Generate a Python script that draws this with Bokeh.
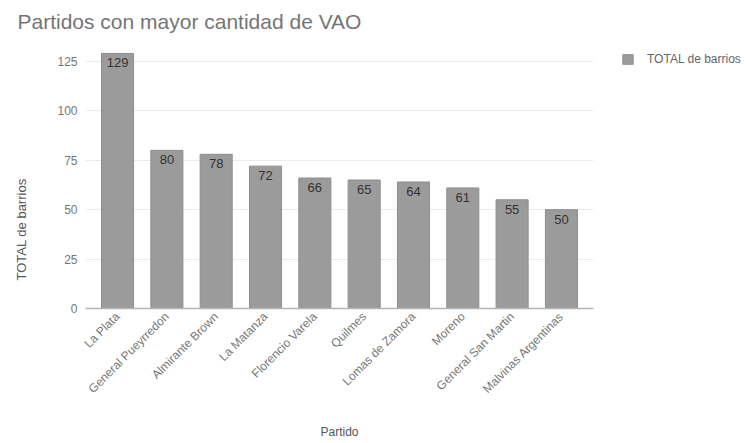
import math
from bokeh.plotting import figure
from bokeh.models import (FactorRange, Range1d, FixedTicker, Legend, LegendItem,
                          ColumnDataSource, Title)
from bokeh.core.properties import value
from bokeh.embed import file_html
from bokeh.resources import INLINE

partidos = ["La Plata", "General Pueyrredon", "Almirante Brown", "La Matanza",
            "Florencio Varela", "Quilmes", "Lomas de Zamora", "Moreno",
            "General San Martin", "Malvinas Argentinas"]
totales = [129, 80, 78, 72, 66, 65, 64, 61, 55, 50]
y_ticks = [0, 25, 50, 75, 100, 125]

FONT = "Liberation Sans"

src = ColumnDataSource(dict(x=partidos, top=totales, lbl=[str(v) for v in totales]))

p = figure(frame_width=508, frame_height=257, output_backend="svg",
           toolbar_location=None, title=None,
           x_range=FactorRange(*partidos, range_padding=0.03),
           y_range=Range1d(0, 130),
           min_border_left=85, min_border_right=154, min_border_top=51,
           min_border_bottom=135)
p.outline_line_color = None
p.background_fill_color = "white"

bars = p.vbar(x="x", top="top", width=0.65, source=src,
              fill_color="#9b9b9b", line_color="#8e8e8e", line_width=1)

p.text(x="x", y="top", text="lbl", source=src, y_offset=5,
       text_align="center", text_baseline="top",
       text_font=value(FONT), text_font_size="13px", text_color="#333333")

# axes
p.xgrid.grid_line_color = None
p.ygrid.grid_line_color = "#ebebeb"
p.ygrid.grid_line_width = 1

p.yaxis.ticker = FixedTicker(ticks=y_ticks)
p.yaxis.axis_line_color = None
p.yaxis.major_tick_line_color = None
p.yaxis.minor_tick_line_color = None
p.yaxis.major_tick_out = 0
p.yaxis.minor_tick_out = 0
p.yaxis.major_label_text_font = FONT
p.yaxis.major_label_text_font_size = "12px"
p.yaxis.major_label_text_color = "#777777"
p.yaxis.major_label_standoff = 8

p.xaxis.axis_line_color = "#b5b5b5"
p.xaxis.axis_line_width = 1.5
p.xaxis.major_tick_line_color = None
p.xaxis.minor_tick_line_color = None
p.xaxis.major_tick_out = 0
p.xaxis.minor_tick_out = 0
p.xaxis.major_label_orientation = math.pi / 4
p.xaxis.major_label_text_font = FONT
p.xaxis.major_label_text_font_size = "12px"
p.xaxis.major_label_text_color = "#777777"
p.xaxis.major_label_standoff = 6
p.xaxis.axis_label = "Partido"
p.xaxis.axis_label_text_font = FONT
p.xaxis.axis_label_text_font_size = "12px"
p.xaxis.axis_label_text_font_style = "normal"
p.xaxis.axis_label_text_color = "#555555"
p.xaxis.axis_label_standoff = 21

# spacer between frame and chart title (white on white)
top_spacer = Title(text=".", text_font_size="2px", text_color="white", standoff=14)
p.add_layout(top_spacer, "above")

# chart title (outer position in the above panel)
main_title = Title(text="Partidos con mayor cantidad de VAO", align="left",
                   offset=-68, vertical_align="top", standoff=0,
                   text_font=FONT, text_font_size="21px", text_font_style="normal",
                   text_color="#757575")
p.add_layout(main_title, "above")

# spacer between y axis and its title (white on white)
left_spacer = Title(text=".", text_font_size="2px", text_color="white", standoff=21)
p.add_layout(left_spacer, "left")

# y axis title
ytitle = Title(text="TOTAL de barrios", align="left", offset=28,
               vertical_align="top", standoff=0,
               text_font=FONT, text_font_size="13px", text_font_style="normal",
               text_color="#555555")
p.add_layout(ytitle, "left")

legend = Legend(items=[LegendItem(label="TOTAL de barrios", renderers=[bars])],
                location=(28, 242), orientation="vertical",
                glyph_width=13, glyph_height=12, label_height=12,
                label_standoff=13, padding=0, margin=0, spacing=0,
                border_line_color=None, background_fill_alpha=0,
                label_text_font=FONT, label_text_font_size="12px",
                label_text_color="#666666")
p.add_layout(legend, "right")

open("out.html", "w").write(file_html(p, INLINE))
